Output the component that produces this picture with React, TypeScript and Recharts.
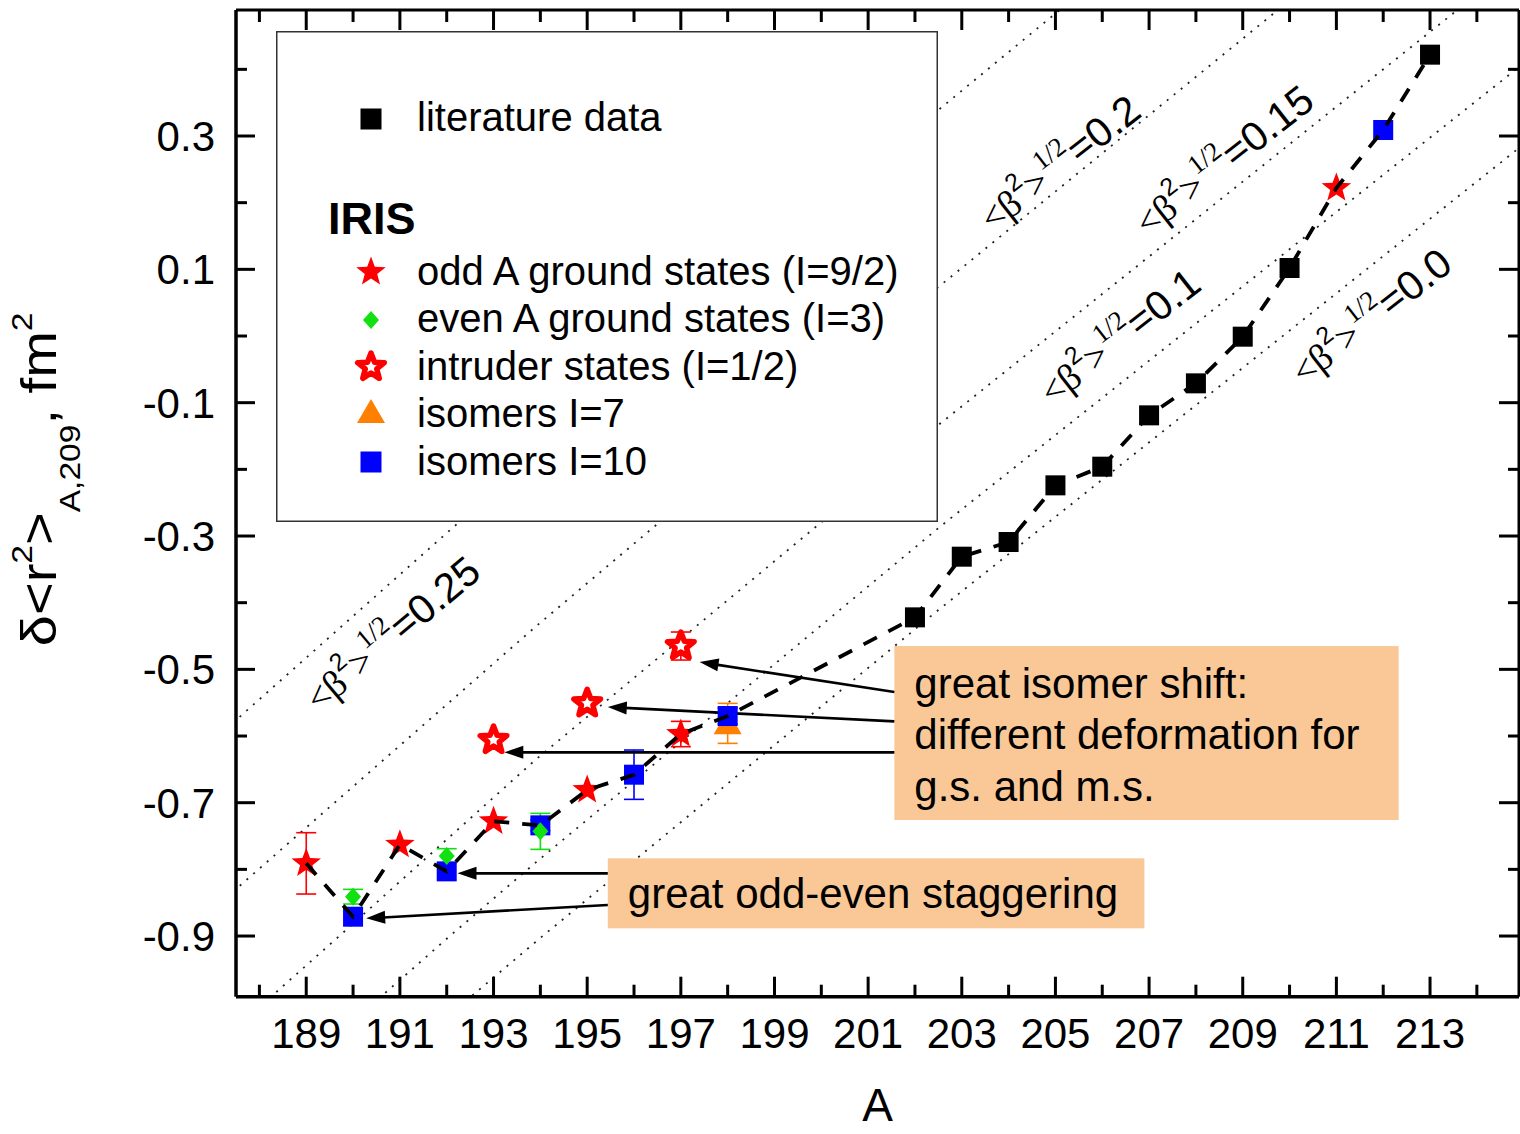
import React from 'react';
import {
  ComposedChart,
  XAxis,
  YAxis,
  Line,
  Scatter,
  ErrorBar,
  ReferenceArea,
  ReferenceLine,
  ReferenceDot,
  Legend,
} from 'recharts';

const SANS = '"Liberation Sans", Arial, Helvetica, sans-serif';
const SERIF = '"Liberation Serif", "Times New Roman", serif';

const RED = '#FF0000';
const GREEN = '#11E011';
const ORANGE = '#FF8000';
const BLUE = '#0000FF';
const PEACH = '#FAC896';

// ---------------- data (A, delta<r^2> in fm^2, error) ----------------
const litA = [202, 203, 204, 205, 206, 207, 208, 209, 210, 213];
const litR = [-0.422, -0.331, -0.309, -0.224, -0.196, -0.119, -0.071, -0.001, 0.102, 0.422];

const oddA = [189, 191, 193, 195, 197, 211];
const oddR = [-0.791, -0.763, -0.728, -0.681, -0.597, 0.222];
const oddErr = [0.046, null, null, null, 0.019, null];

const evenA = [190, 192, 194];
const evenR = [-0.841, -0.78, -0.743];
const evenErr = [0.011, 0.011, 0.027];

const intrA = [193, 195, 197];
const intrR = [-0.606, -0.551, -0.465];
const intrErr = [null, null, 0.021];

const iso7A = [198];
const iso7R = [-0.581];
const iso7Err = [0.03];

const iso10A = [190, 192, 194, 196, 198, 212];
const iso10R = [-0.871, -0.803, -0.734, -0.658, -0.57, 0.309];
const iso10Err = [null, null, 0.008, 0.037, 0.012, null];

const trendA = [189, 190, 191, 192, 193, 194, 195, 196, 197, 198, 202, 203, 204, 205, 206, 207, 208, 209, 210, 211, 212, 213];
const trendR = [-0.791, -0.871, -0.763, -0.803, -0.728, -0.734, -0.681, -0.658, -0.597, -0.57, -0.422, -0.331, -0.309, -0.224, -0.196, -0.119, -0.071, -0.001, 0.102, 0.222, 0.309, 0.422];

// iso-deformation lines <beta^2>^1/2
const beta025A = [187, 187.55, 192.12, 202.5, 205.09, 206];
const beta025R = [-0.607, -0.573, -0.288, 0.339, 0.489, 0.54];
const beta020A = [187, 187.55, 193.89, 202.5, 209.62, 211];
const beta020R = [-0.86, -0.8265, -0.4365, 0.0735, 0.4815, 0.56];
const beta015A = [187.5, 188.41, 189.69, 193.89, 202.5, 213.45, 215];
const beta015R = [-1.038, -0.981, -0.901, -0.636, -0.1335, 0.4815, 0.569];
const beta010A = [190.4, 192.05, 193.98, 202.5, 214.9, 215.5];
const beta010R = [-1.003, -0.901, -0.785, -0.288, 0.4035, 0.437];
const beta000A = [192.4, 192.61, 193.98, 202.5, 214.9, 215.5];
const beta000R = [-0.998, -0.9855, -0.904, -0.411, 0.282, 0.315];

const betaLabelText = ['0.25', '0.2', '0.15', '0.1', '0.0'];
const betaLabelA = [190.86, 205.11, 208.62, 206.39, 211.76];
const betaLabelR = [-0.449, 0.257, 0.261, -0.003, 0.027];
const betaLabelAngle = [-40, -38, -38, -38, -38];

// ticks
const xTicks = [188, 189, 190, 191, 192, 193, 194, 195, 196, 197, 198, 199, 200, 201, 202, 203, 204, 205, 206, 207, 208, 209, 210, 211, 212, 213, 214];
const yTicks = [-0.9, -0.8, -0.7, -0.6, -0.5, -0.4, -0.3, -0.2, -0.1, 0.0, 0.1, 0.2, 0.3, 0.4];
const xDomain = [187.5, 214.9];
const yDomain = [-0.991, 0.489];

// annotations
const box1Lines = ['great isomer shift:', 'different deformation for', 'g.s. and m.s.'];
const box1A = [201.56, 212.33];
const box1R = [-0.726, -0.465];
const box2Lines = ['great odd-even staggering'];
const box2A = [195.44, 206.9];
const box2R = [-0.8885, -0.7835];

const arrowFromA = [201.56, 201.56, 201.56, 195.44, 195.44];
const arrowFromR = [-0.534, -0.578, -0.6245, -0.806, -0.8535];
const arrowToA = [197.4, 195.44, 193.23, 192.23, 190.28];
const arrowToR = [-0.489, -0.5565, -0.6245, -0.806, -0.8735];

// legend names
const NAME_LIT = 'literature data';
const NAME_ODD = 'odd A ground states (I=9/2)';
const NAME_EVEN = 'even A ground states (I=3)';
const NAME_INTR = 'intruder states (I=1/2)';
const NAME_ISO7 = 'isomers I=7';
const NAME_ISO10 = 'isomers I=10';

const pts = (A: number[], R: number[], E?: (number | null)[]) =>
  A.map((a, i) => ({ A: a, r: R[i], err: E ? E[i] : null }));

// ---------------- marker shapes ----------------
function starPoints(cx: number, cy: number, ro: number, ri: number) {
  const p: string[] = [];
  for (let i = 0; i < 10; i++) {
    const ang = -Math.PI / 2 + (i * Math.PI) / 5;
    const rr = i % 2 === 0 ? ro : ri;
    p.push(`${cx + rr * Math.cos(ang)},${cy + rr * Math.sin(ang)}`);
  }
  return p.join(' ');
}

const Square = ({ cx, cy, color, side = 20 }: any) =>
  cx == null ? null : <rect x={cx - side / 2} y={cy - side / 2} width={side} height={side} fill={color} />;
const FilledStar = ({ cx, cy }: any) =>
  cx == null ? null : <polygon points={starPoints(cx, cy, 15.5, 6.5)} fill={RED} />;
const OpenStar = ({ cx, cy }: any) =>
  cx == null ? null : (
    <polygon points={starPoints(cx, cy, 14, 6)} fill="#fff" stroke={RED} strokeWidth={5.5} strokeLinejoin="round" />
  );
const Diamond = ({ cx, cy }: any) =>
  cx == null ? null : (
    <polygon points={`${cx},${cy - 9} ${cx + 8},${cy} ${cx},${cy + 9} ${cx - 8},${cy}`} fill={GREEN} />
  );
const Triangle = ({ cx, cy }: any) =>
  cx == null ? null : (
    <polygon points={`${cx},${cy - 13} ${cx + 14},${cy + 11} ${cx - 14},${cy + 11}`} fill={ORANGE} />
  );

// ---------------- ticks ----------------
const isOdd = (n: number) => Math.abs(Math.round(n)) % 2 === 1;

const LeftTick = (props: any) => {
  const { x, y, payload } = props;
  const v = payload.value;
  const major = isOdd(v * 10);
  return (
    <g>
      <line x1={x} y1={y} x2={x + (major ? 19 : 11)} y2={y} stroke="#000" strokeWidth={3} />
      {major && (
        <text x={x - 21} y={y} dy="0.36em" textAnchor="end" fontSize={42} fontFamily={SANS} fill="#000">
          {v.toFixed(1)}
        </text>
      )}
    </g>
  );
};
const RightTick = (props: any) => {
  const { x, y, payload } = props;
  const major = isOdd(payload.value * 10);
  return <line x1={x} y1={y} x2={x - (major ? 20 : 11)} y2={y} stroke="#000" strokeWidth={3} />;
};
const BottomTick = (props: any) => {
  const { x, y, payload } = props;
  const v = payload.value;
  const major = isOdd(v);
  return (
    <g>
      <line x1={x} y1={y} x2={x} y2={y - (major ? 20 : 12)} stroke="#000" strokeWidth={3} />
      {major && (
        <text x={x} y={y + 51.5} textAnchor="middle" fontSize={42} fontFamily={SANS} fill="#000">
          {String(v)}
        </text>
      )}
    </g>
  );
};
const TopTick = (props: any) => {
  const { x, y, payload } = props;
  const major = isOdd(payload.value);
  return <line x1={x} y1={y} x2={x} y2={y + (major ? 20 : 12)} stroke="#000" strokeWidth={3} />;
};

// ---------------- labels ----------------
const YLabel = (props: any) => {
  const vb = props.viewBox || { x: 0, y: 10, width: 236, height: 987 };
  const cx = vb.x + 56;
  const cy = vb.y + vb.height / 2 - 24;
  return (
    <g transform={`translate(${cx},${cy}) rotate(-90) scale(1.12,1)`}>
      <text x={0} y={0} textAnchor="middle" fontFamily={SANS} fontSize={50} fill="#000">
        <tspan>δ&lt;r</tspan>
        <tspan fontSize={30} dy={-24}>2</tspan>
        <tspan dy={24}>&gt;</tspan>
        <tspan fontSize={30} dy={24}>A,209</tspan>
        <tspan dy={-24}>, fm</tspan>
        <tspan fontSize={30} dy={-24}>2</tspan>
      </text>
    </g>
  );
};

const XLabel = (props: any) => {
  const vb = props.viewBox || { x: 236, y: 997, width: 1283, height: 137 };
  return (
    <text x={vb.x + vb.width / 2} y={vb.y + 124} textAnchor="middle" fontFamily={SANS} fontSize={46} fill="#000">
      A
    </text>
  );
};

const BetaLabel = ({ cx, cy, value, angle }: any) =>
  cx == null ? null : (
    <g transform={`translate(${cx},${cy}) rotate(${angle})`}>
      <text x={0} y={12} textAnchor="middle" fill="#000">
        <tspan fontFamily={SERIF} fontSize={38}>&lt;β</tspan>
        <tspan fontFamily={SANS} fontSize={25} dy={-19}>2</tspan>
        <tspan fontFamily={SERIF} fontSize={38} dy={19}>&gt;</tspan>
        <tspan fontFamily={SERIF} fontSize={27} dy={-19}>1/2</tspan>
        <tspan fontFamily={SANS} fontSize={41} dy={19}>={value}</tspan>
      </text>
    </g>
  );

const makeBox = (lines: string[], firstBaseline: number, step: number) => (p: any) =>
  (
    <g>
      <rect x={p.x} y={p.y} width={p.width} height={p.height} fill={PEACH} />
      <text fontFamily={SANS} fontSize={42} fill="#000">
        {lines.map((t, i) => (
          <tspan key={i} x={p.x + 20} y={p.y + firstBaseline + i * step}>
            {t}
          </tspan>
        ))}
      </text>
    </g>
  );

const ArrowShape = (p: any) => {
  const { x1, y1, x2, y2 } = p;
  if (x1 == null) return null;
  const dx = x2 - x1;
  const dy = y2 - y1;
  const L = Math.hypot(dx, dy) || 1;
  const ux = dx / L;
  const uy = dy / L;
  const hl = 19;
  const hw = 6.5;
  const bx = x2 - ux * hl;
  const by = y2 - uy * hl;
  return (
    <g>
      <line x1={x1} y1={y1} x2={bx + ux * 2} y2={by + uy * 2} stroke="#000" strokeWidth={2.6} />
      <polygon
        points={`${x2},${y2} ${bx - uy * hw},${by + ux * hw} ${bx + uy * hw},${by - ux * hw}`}
        fill="#000"
      />
    </g>
  );
};

// ---------------- legend ----------------
const legendSymbol = (name: string, cx: number, cy: number) => {
  switch (name) {
    case NAME_LIT:
      return <Square cx={cx} cy={cy} color="#000" side={21} />;
    case NAME_ODD:
      return <FilledStar cx={cx} cy={cy} />;
    case NAME_EVEN:
      return <Diamond cx={cx} cy={cy} />;
    case NAME_INTR:
      return <OpenStar cx={cx} cy={cy} />;
    case NAME_ISO7:
      return <Triangle cx={cx} cy={cy} />;
    case NAME_ISO10:
      return <Square cx={cx} cy={cy} color={BLUE} side={21} />;
    default:
      return null;
  }
};

const legendRows = [
  { name: NAME_LIT, cy: 88, base: 100 },
  { name: NAME_ODD, cy: 241, base: 254 },
  { name: NAME_EVEN, cy: 289, base: 301 },
  { name: NAME_INTR, cy: 336, base: 349 },
  { name: NAME_ISO7, cy: 381, base: 396 },
  { name: NAME_ISO10, cy: 431, base: 444 },
];

const renderLegend = (props: any) => {
  const payload = props.payload || [];
  const names = new Set(payload.map((e: any) => e.value));
  return (
    <svg width={662} height={491} style={{ display: 'block' }}>
      <rect x={0.75} y={0.75} width={660.5} height={489.5} fill="#fff" stroke="#333" strokeWidth={1.5} />
      <text x={52} y={203} fontFamily={SANS} fontWeight="bold" fontSize={45} fill="#000">
        IRIS
      </text>
      {legendRows
        .filter((r) => names.size === 0 || names.has(r.name))
        .map((r) => (
          <g key={r.name}>
            {legendSymbol(r.name, 95, r.cy)}
            <text x={141} y={r.base} fontFamily={SANS} fontSize={40} fill="#000">
              {r.name}
            </text>
          </g>
        ))}
    </svg>
  );
};

const betaSets = [
  { A: beta025A, R: beta025R },
  { A: beta020A, R: beta020R },
  { A: beta015A, R: beta015R },
  { A: beta010A, R: beta010R },
  { A: beta000A, R: beta000R },
];

export default function App() {
  const errProps = { dataKey: 'err', direction: 'y' as const, width: 10, strokeWidth: 1.6 };
  return (
    <div style={{ position: 'absolute', left: 0, top: 0, width: 1520, height: 1134, background: '#fff' }}>
      <ComposedChart width={1520} height={1134} margin={{ top: 9, right: 0, bottom: 0, left: 0 }}>
        <XAxis
          dataKey="A"
          type="number"
          domain={xDomain}
          ticks={xTicks}
          interval={0}
          allowDataOverflow
          height={137.3}
          tickSize={0}
          tickMargin={0}
          tick={<BottomTick />}
          axisLine={{ stroke: '#000', strokeWidth: 3.5 }}
          label={<XLabel />}
        />
        <XAxis
          xAxisId="t"
          orientation="top"
          dataKey="A"
          type="number"
          domain={xDomain}
          ticks={xTicks}
          interval={0}
          allowDataOverflow
          height={1}
          tickSize={0}
          tickMargin={0}
          tick={<TopTick />}
          axisLine={{ stroke: '#000', strokeWidth: 3 }}
        />
        <YAxis
          dataKey="r"
          type="number"
          domain={yDomain}
          ticks={yTicks}
          interval={0}
          allowDataOverflow
          width={236}
          tickSize={0}
          tickMargin={0}
          tick={<LeftTick />}
          axisLine={{ stroke: '#000', strokeWidth: 3.5 }}
          label={<YLabel />}
        />
        <YAxis
          yAxisId="r"
          orientation="right"
          dataKey="r"
          type="number"
          domain={yDomain}
          ticks={yTicks}
          interval={0}
          allowDataOverflow
          width={1}
          tickSize={0}
          tickMargin={0}
          tick={<RightTick />}
          axisLine={{ stroke: '#000', strokeWidth: 3 }}
        />

        {betaSets.map((b, i) => (
          <Line
            key={`beta${i}`}
            data={pts(b.A, b.R)}
            dataKey="r"
            type="linear"
            stroke="#222"
            strokeWidth={1.8}
            strokeDasharray="2 7"
            dot={false}
            activeDot={false}
            legendType="none"
            isAnimationActive={false}
          />
        ))}

        {betaLabelText.map((t, i) => (
          <ReferenceDot
            key={`bl${i}`}
            x={betaLabelA[i]}
            y={betaLabelR[i]}
            r={0}
            zIndex={450}
            shape={(p: any) => <BetaLabel cx={p.cx} cy={p.cy} value={t} angle={betaLabelAngle[i]} />}
          />
        ))}

        <ReferenceArea
          x1={box1A[0]}
          x2={box1A[1]}
          y1={box1R[0]}
          y2={box1R[1]}
          zIndex={450}
          shape={makeBox(box1Lines, 52, 51.3)}
        />
        <ReferenceArea
          x1={box2A[0]}
          x2={box2A[1]}
          y1={box2R[0]}
          y2={box2R[1]}
          zIndex={450}
          shape={makeBox(box2Lines, 50, 50)}
        />

        {arrowFromA.map((a, i) => (
          <ReferenceLine
            key={`ar${i}`}
            segment={[
              { x: a, y: arrowFromR[i] },
              { x: arrowToA[i], y: arrowToR[i] },
            ]}
            zIndex={460}
            shape={ArrowShape}
          />
        ))}

        <Scatter
          name={NAME_LIT}
          data={pts(litA, litR)}
          fill="#000"
          isAnimationActive={false}
          shape={(p: any) => <Square cx={p.cx} cy={p.cy} color="#000" />}
        />
        <Scatter
          name={NAME_ISO7}
          data={pts(iso7A, iso7R, iso7Err)}
          fill={ORANGE}
          isAnimationActive={false}
          shape={(p: any) => <Triangle cx={p.cx} cy={p.cy} />}
        >
          <ErrorBar {...errProps} stroke={ORANGE} />
        </Scatter>
        <Scatter
          name={NAME_ISO10}
          data={pts(iso10A, iso10R, iso10Err)}
          fill={BLUE}
          isAnimationActive={false}
          shape={(p: any) => <Square cx={p.cx} cy={p.cy} color={BLUE} />}
        >
          <ErrorBar {...errProps} stroke={BLUE} />
        </Scatter>
        <Scatter
          name={NAME_EVEN}
          data={pts(evenA, evenR, evenErr)}
          fill={GREEN}
          isAnimationActive={false}
          shape={(p: any) => <Diamond cx={p.cx} cy={p.cy} />}
        >
          <ErrorBar {...errProps} stroke={GREEN} />
        </Scatter>
        <Scatter
          name={NAME_ODD}
          data={pts(oddA, oddR, oddErr)}
          fill={RED}
          isAnimationActive={false}
          shape={(p: any) => <FilledStar cx={p.cx} cy={p.cy} />}
        >
          <ErrorBar {...errProps} stroke={RED} />
        </Scatter>
        <Scatter
          name={NAME_INTR}
          data={pts(intrA, intrR, intrErr)}
          fill={RED}
          isAnimationActive={false}
          shape={(p: any) => <OpenStar cx={p.cx} cy={p.cy} />}
        >
          <ErrorBar {...errProps} stroke={RED} />
        </Scatter>

        <Line
          data={pts(trendA, trendR)}
          dataKey="r"
          type="linear"
          stroke="#000"
          strokeWidth={3.8}
          strokeDasharray="15 13"
          dot={false}
          activeDot={false}
          legendType="none"
          zIndex={700}
          isAnimationActive={false}
        />

        <Legend
          layout="vertical"
          align="center"
          verticalAlign="middle"
          content={renderLegend}
          wrapperStyle={{ left: 276, top: 31, width: 662, height: 491, right: 'auto', bottom: 'auto', margin: 0 }}
        />
      </ComposedChart>
    </div>
  );
}
